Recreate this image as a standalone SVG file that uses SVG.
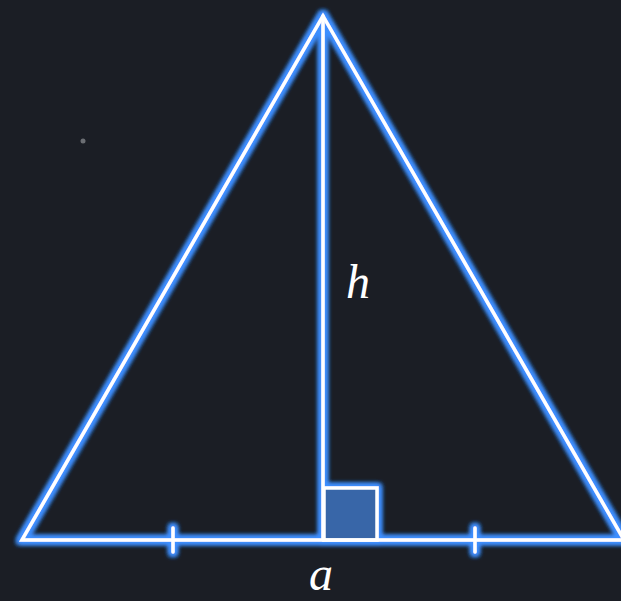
<svg xmlns="http://www.w3.org/2000/svg" width="621" height="601" viewBox="0 0 621 601">
<defs>
<filter id="glow" x="-20%" y="-20%" width="140%" height="140%">
<feMorphology in="SourceAlpha" operator="dilate" radius="1.5" result="d"/>
<feGaussianBlur in="d" stdDeviation="2.5" result="b"/>
<feFlood flood-color="#3f8fff" flood-opacity="1"/>
<feComposite in2="b" operator="in" result="g"/>
<feMerge><feMergeNode in="g"/><feMergeNode in="g"/><feMergeNode in="g"/><feMergeNode in="SourceGraphic"/></feMerge>
</filter>
<style>
.ln{fill:none;stroke:#ffffff;stroke-width:3.5;stroke-linejoin:miter;stroke-linecap:round}
.lbl{font-family:"Liberation Serif","DejaVu Serif",serif;font-style:italic;font-size:48px;fill:#ffffff}
</style>
</defs>
<rect width="621" height="601" fill="#1b1e25"/>
<circle cx="83" cy="141" r="2.5" fill="#6b6e73"/>
<g id="connectors" filter="url(#glow)">
<rect id="right-angle" x="324" y="488" width="53" height="52" fill="#3866a8" stroke="#ffffff" stroke-width="3.5"/>
<polygon id="triangle" class="ln" points="323,16 624,540 22,540"/>
<line id="height" class="ln" x1="323" y1="16" x2="323" y2="540"/>
<line id="tick-left" class="ln" x1="173" y1="528" x2="173" y2="552"/>
<line id="tick-right" class="ln" x1="475" y1="528" x2="475" y2="552"/>
</g>
<g id="label-h"><text class="lbl" x="346" y="298">h</text></g>
<g id="label-a"><text class="lbl" x="309" y="590">a</text></g>
</svg>
